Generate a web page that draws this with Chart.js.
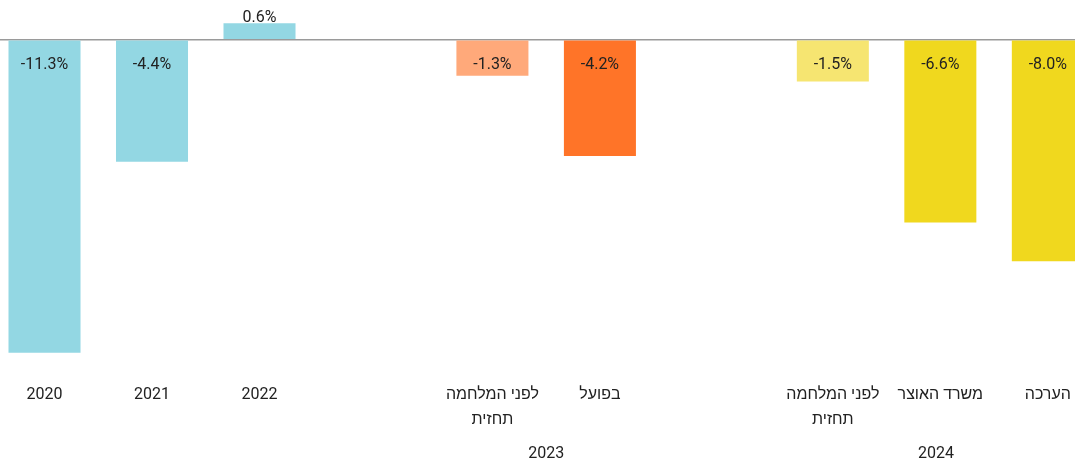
<!DOCTYPE html>
<html>
<head>
<meta charset="utf-8">
<script src="https://cdn.jsdelivr.net/npm/chart.js@4/dist/chart.umd.min.js"></script>
<style>
  html, body { margin: 0; padding: 0; background: #ffffff; }
  #wrap { position: relative; width: 1075px; height: 461px; }
</style>
</head>
<body>
<div id="wrap"><canvas id="c"></canvas></div>
<script>
// ---- data ----
const categories = ["2020", "2021", "2022", ["לפני המלחמה", "תחזית"], "בפועל", ["לפני המלחמה", "תחזית"], "משרד האוצר", "הערכה"];
const groupOf    = [0, 0, 0, 1, 1, 2, 2, 2];
const groupLabels = ["", "2023", "2024"];
const values     = [-11.3, -4.4, 0.6, -1.3, -4.2, -1.5, -6.6, -8.0];
const barColors  = ["#93D7E3", "#93D7E3", "#93D7E3", "#FFA97A", "#FF7428", "#F6E571", "#F0D81E", "#F0D81E"];

// ---- layout helpers (positions derived from index + group gap) ----
const GROUP_GAP = 7 / 6;
const positions = categories.map((c, i) => i + groupOf[i] * GROUP_GAP);
const X_MIN = -0.414, X_MAX = 9.586;
const BAR_PCT = 0.67;
const HALF = BAR_PCT / 2;

const groupTicks = [];
groupLabels.forEach((g, gi) => {
  if (!g) return;
  const idx = positions.filter((p, i) => groupOf[i] === gi);
  const lo = Math.min(...idx) - HALF;
  const hi = Math.min(Math.max(...idx) + HALF, X_MAX);
  groupTicks.push({ value: (lo + hi) / 2, label: g });
});

const FONT = "Roboto, 'Liberation Sans', sans-serif";

const valueLabels = {
  id: 'valueLabels',
  afterDatasetsDraw(chart) {
    const ctx = chart.ctx;
    const meta = chart.getDatasetMeta(0);
    const y0 = chart.scales.y.getPixelForValue(0);
    ctx.save();
    ctx.font = "16px " + FONT;
    ctx.fillStyle = "#222222";
    ctx.textAlign = "center";
    ctx.textBaseline = "middle";
    meta.data.forEach((el, i) => {
      const v = values[i];
      const txt = v.toFixed(1) + "%";
      const y = v < 0 ? y0 + 25 : el.y - 5;
      ctx.fillText(txt, el.x, y);
    });
    ctx.restore();
  }
};

const noPad = (h) => (s) => { s.height = h; s.paddingLeft = 0; s.paddingRight = 0; };

new Chart(document.getElementById('c'), {
  type: 'bar',
  data: {
    datasets: [{
      data: values.map((v, i) => ({ x: positions[i], y: v })),
      backgroundColor: barColors,
      borderWidth: 0,
      categoryPercentage: 1,
      barPercentage: BAR_PCT
    }]
  },
  options: {
    responsive: true,
    maintainAspectRatio: false,
    animation: false,
    layout: { padding: 0 },
    plugins: { legend: { display: false }, tooltip: { enabled: false } },
    scales: {
      x: {
        type: 'linear',
        position: 'bottom',
        offset: false,
        min: X_MIN, max: X_MAX,
        grid: { display: false, drawTicks: false, offset: false },
        border: { display: false },
        afterBuildTicks: (s) => { s.ticks = positions.map(p => ({ value: p })); },
        afterFit: noPad(62),
        ticks: {
          autoSkip: false, maxRotation: 0, minRotation: 0, padding: 11,
          color: '#222222',
          font: { family: FONT, size: 16, lineHeight: 1.55 },
          callback: (v, i) => categories[i]
        }
      },
      x2: {
        type: 'linear',
        position: 'bottom',
        offset: false,
        min: X_MIN, max: X_MAX,
        grid: { display: false, drawTicks: false, offset: false },
        border: { display: false },
        afterBuildTicks: (s) => { s.ticks = groupTicks.map(g => ({ value: g.value })); },
        afterFit: noPad(27),
        ticks: {
          autoSkip: false, maxRotation: 0, minRotation: 0, padding: 8,
          color: '#222222',
          font: { family: FONT, size: 16, lineHeight: 1.5 },
          callback: (v, i) => groupTicks[i].label
        }
      },
      y: {
        min: -12, max: 1.44,
        grid: {
          drawTicks: false,
          color: (c) => c.tick && c.tick.value === 0 ? '#9a9a9a' : 'rgba(0,0,0,0)',
          lineWidth: (c) => c.tick && c.tick.value === 0 ? 1.5 : 0
        },
        border: { display: false },
        afterBuildTicks: (s) => { s.ticks = [{ value: 0 }]; },
        ticks: { display: false }
      }
    }
  },
  plugins: [valueLabels]
});
</script>
</body>
</html>
